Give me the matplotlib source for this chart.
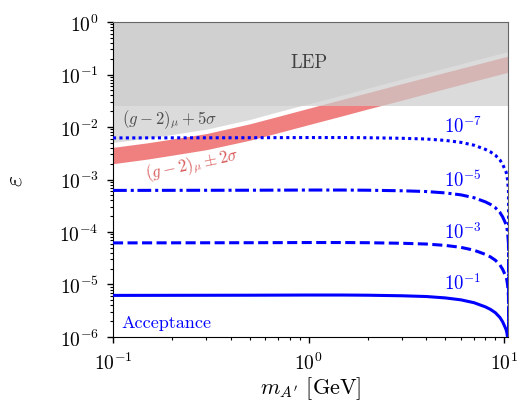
import matplotlib as mpl
mpl.use('Agg')
import matplotlib.pyplot as plt
from matplotlib.ticker import LogLocator, NullFormatter
import numpy as np

mpl.rcParams['font.family'] = 'serif'
mpl.rcParams['font.serif'] = ['cmr10', 'DejaVu Serif']
mpl.rcParams['mathtext.fontset'] = 'cm'
mpl.rcParams['axes.formatter.use_mathtext'] = True
mpl.rcParams['axes.unicode_minus'] = False

# (g-2)_mu band and 5 sigma limit
mass_g2 = [0.1, 0.15, 0.2, 0.3, 0.5, 0.7, 1.0, 1.5, 2.0, 3.0, 5.0, 7.0, 10.5]
g2_upper = [0.0041, 0.0050, 0.0059, 0.0075, 0.0115, 0.016, 0.0228, 0.034, 0.045, 0.067, 0.11, 0.152, 0.225]
g2_lower = [0.0020, 0.00245, 0.0029, 0.0037, 0.0056, 0.0078, 0.0111, 0.0165, 0.022, 0.0325, 0.054, 0.075, 0.111]
g2_5sigma = [0.0051, 0.0061, 0.0072, 0.0091, 0.0139, 0.0196, 0.0278, 0.041, 0.055, 0.082, 0.134, 0.186, 0.275]

# LEP limit
lep_mass = [0.1, 10.5]
lep_eps = 0.025

# sensitivity for different acceptances
mass_acc = [0.1, 0.5, 1.0, 1.5, 2.0, 3.0, 4.0, 5.0, 6.0, 7.0, 8.0, 8.5, 9.0,
            9.5, 9.8, 10.0, 10.2, 10.3, 10.4, 10.5, 10.56]
eps_acc1 = [6.2e-6, 6.25e-6, 6.3e-6, 6.3e-6, 6.25e-6, 6.1e-6, 5.9e-6, 5.55e-6, 5.1e-6, 4.5e-6, 3.75e-6, 3.35e-6, 2.9e-6,
            2.35e-6, 1.95e-6, 1.65e-6, 1.4e-6, 1.22e-6, 0.95e-6, 0.6e-6, 0.2e-6]
eps_acc3 = [6.2e-5, 6.25e-5, 6.3e-5, 6.3e-5, 6.25e-5, 6.1e-5, 5.9e-5, 5.55e-5, 5.1e-5, 4.5e-5, 3.75e-5, 3.35e-5, 2.9e-5,
            2.35e-5, 1.95e-5, 1.65e-5, 1.4e-5, 1.22e-5, 0.95e-5, 0.6e-5, 0.2e-7]
eps_acc5 = [6.2e-4, 6.25e-4, 6.3e-4, 6.3e-4, 6.25e-4, 6.1e-4, 5.9e-4, 5.55e-4, 5.1e-4, 4.5e-4, 3.75e-4, 3.35e-4, 2.9e-4,
            2.35e-4, 1.95e-4, 1.65e-4, 1.4e-4, 1.22e-4, 0.95e-4, 0.6e-4, 0.2e-7]
eps_acc7 = [6.2e-3, 6.25e-3, 6.3e-3, 6.3e-3, 6.25e-3, 6.1e-3, 5.9e-3, 5.55e-3, 5.1e-3, 4.5e-3, 3.75e-3, 3.35e-3, 2.9e-3,
            2.35e-3, 1.95e-3, 1.65e-3, 1.4e-3, 1.22e-3, 0.95e-3, 0.6e-3, 0.2e-7]
acc_labels = [r'$10^{-1}$', r'$10^{-3}$', r'$10^{-5}$', r'$10^{-7}$']
acc_label_eps = [1.11e-5, 1.04e-4, 1.02e-3, 1.045e-2]

fig = plt.figure(figsize=(5.17, 4.06), dpi=100)
ax = fig.add_axes([0.2186, 0.1675, 0.7646, 0.7758])

# 画带
ax.fill_between(mass_g2, g2_lower, g2_upper, color='lightcoral', lw=0, zorder=1)
ax.fill_between(lep_mass, lep_eps, 1, color='0.8', alpha=0.7, lw=0, zorder=2)
ax.fill_between(mass_g2, g2_5sigma, 1, color='0.8', alpha=0.7, lw=0, zorder=2)

# 画线
lw = 2.2
ax.plot(mass_acc, eps_acc1, color='blue', lw=lw, ls='-', zorder=3)
ax.plot(mass_acc, eps_acc3, color='blue', lw=lw, ls=(0, (3.3, 1.45)), zorder=3)
ax.plot(mass_acc, eps_acc5, color='blue', lw=lw, ls=(0, (4.5, 1.3, 1.0, 1.2)), zorder=3)
ax.plot(mass_acc, eps_acc7, color='blue', lw=lw, ls=(0, (1.0, 1.1)), zorder=3)

for lab, yy in zip(acc_labels, acc_label_eps):
    ax.text(6.15, yy, lab, color='blue', fontsize=13.5, ha='center', va='center', zorder=4)

ax.text(1.0, 0.173, 'LEP', color='0.25', fontsize=13.5, ha='center', va='center')
ax.text(0.111, 0.0142, r'$(g-2)_\mu+5\sigma$', color='0.3', fontsize=12, ha='left', va='center')
ax.text(0.253, 0.00197, r'$(g-2)_\mu\pm2\sigma$', color='#d85a5a', fontsize=12,
        ha='center', va='center', rotation=12)
ax.text(0.111, 1.93e-6, 'Acceptance', color='blue', fontsize=13, ha='left', va='center')

ax.set_xscale('log')
ax.set_yscale('log')
ax.set_xlim(0.1, 10.48)
ax.set_ylim(1e-6, 1)
ax.xaxis.set_major_locator(LogLocator(base=10, numticks=10))
ax.yaxis.set_major_locator(LogLocator(base=10, numticks=10))
ax.xaxis.set_minor_locator(LogLocator(base=10, subs=np.arange(2, 10), numticks=20))
ax.yaxis.set_minor_locator(LogLocator(base=10, subs=np.arange(2, 10), numticks=20))
ax.xaxis.set_minor_formatter(NullFormatter())
ax.yaxis.set_minor_formatter(NullFormatter())
ax.tick_params(which='major', direction='out', length=4.3, width=1, labelsize=14, pad=6)
ax.tick_params(which='minor', direction='out', length=2.5, width=0.8)

for s in ['left', 'bottom']:
    ax.spines[s].set_color('black')
for s in ['top', 'right']:
    ax.spines[s].set_color('0.4')

ax.set_xlabel(r"$m_{A^\prime}$ [GeV]", fontsize=16, labelpad=1)
ax.set_ylabel(r'$\varepsilon$', fontsize=17, labelpad=24)

fig.savefig('out.png', dpi=100)
